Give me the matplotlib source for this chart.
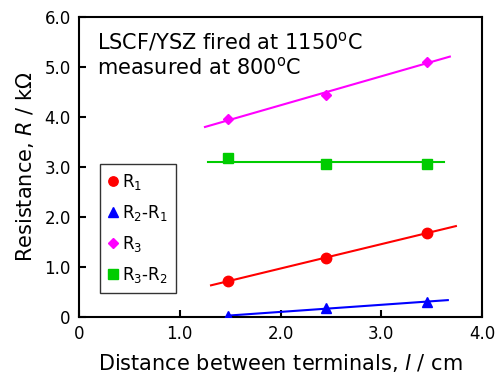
import numpy as np
import matplotlib
matplotlib.use("Agg")
import matplotlib.pyplot as plt

plt.rcParams['font.family'] = ['DejaVu Sans']
plt.rcParams['mathtext.fontset'] = 'dejavusans'

distance = [1.48, 2.45, 3.45]
r1 = [0.72, 1.18, 1.68]
r2_r1 = [0.02, 0.18, 0.30]
r3 = [3.96, 4.44, 5.10]
r3_r2 = [3.18, 3.06, 3.06]

series_labels = [r"R$_1$", r"R$_2$-R$_1$", r"R$_3$", r"R$_3$-R$_2$"]
fit_ranges = [(1.31, 3.74), (1.48, 3.66), (1.25, 3.68), (1.28, 3.62)]

fig = plt.figure(figsize=(4.97, 3.76), dpi=100)
ax = fig.add_axes([0.159, 0.157, 0.811, 0.798])

styles = [
    dict(color='#ff0000', marker='o', ms=7.5),
    dict(color='#0000ff', marker='^', ms=7.5),
    dict(color='#ff00ff', marker='D', ms=5.5),
    dict(color='#00cc00', marker='s', ms=7.5),
]
ys = [r1, r2_r1, r3, r3_r2]
for y, st, lab, rng in zip(ys, styles, series_labels, fit_ranges):
    slope, icpt = np.polyfit(distance, y, 1)
    if lab == r"R$_3$-R$_2$":
        slope, icpt = 0.0, float(np.mean(y))
    xs = np.array(rng)
    ax.plot(xs, slope * xs + icpt, color=st['color'], lw=1.5, zorder=2)
    ax.plot(distance, y, linestyle='none', marker=st['marker'], color=st['color'],
            ms=st['ms'], mec=st['color'], label=lab, zorder=3)

ax.set_xlim(0, 4.0)
ax.set_ylim(0, 6.0)
ax.set_xticks([0, 1, 2, 3, 4])
ax.set_xticklabels(['0', '1.0', '2.0', '3.0', '4.0'])
ax.set_yticks([0, 1, 2, 3, 4, 5, 6])
ax.set_yticklabels(['0', '1.0', '2.0', '3.0', '4.0', '5.0', '6.0'])
ax.tick_params(direction='in', length=5, width=1.5, labelsize=12, colors='black', pad=6)
for s in ax.spines.values():
    s.set_linewidth(1.5)

ax.set_xlabel(r"Distance between terminals, $l$ / cm", fontsize=15, labelpad=6)
ax.set_ylabel(r"Resistance, $R$ / k$\Omega$", fontsize=15, labelpad=6)

ax.text(0.045, 0.955, "LSCF/YSZ fired at 1150$^{\\rm o}$C\nmeasured at 800$^{\\rm o}$C",
        transform=ax.transAxes, fontsize=15, va='top', ha='left', linespacing=1.15)

leg = ax.legend(loc='upper left', bbox_to_anchor=(0.052, 0.51), fontsize=12,
                frameon=True, fancybox=False, edgecolor='black', handlelength=0.6,
                handletextpad=0.2, borderpad=0.5, labelspacing=0.65, borderaxespad=0,
                markerscale=0.9)
leg.get_frame().set_linewidth(1.0)

fig.savefig("out.png", dpi=100)
